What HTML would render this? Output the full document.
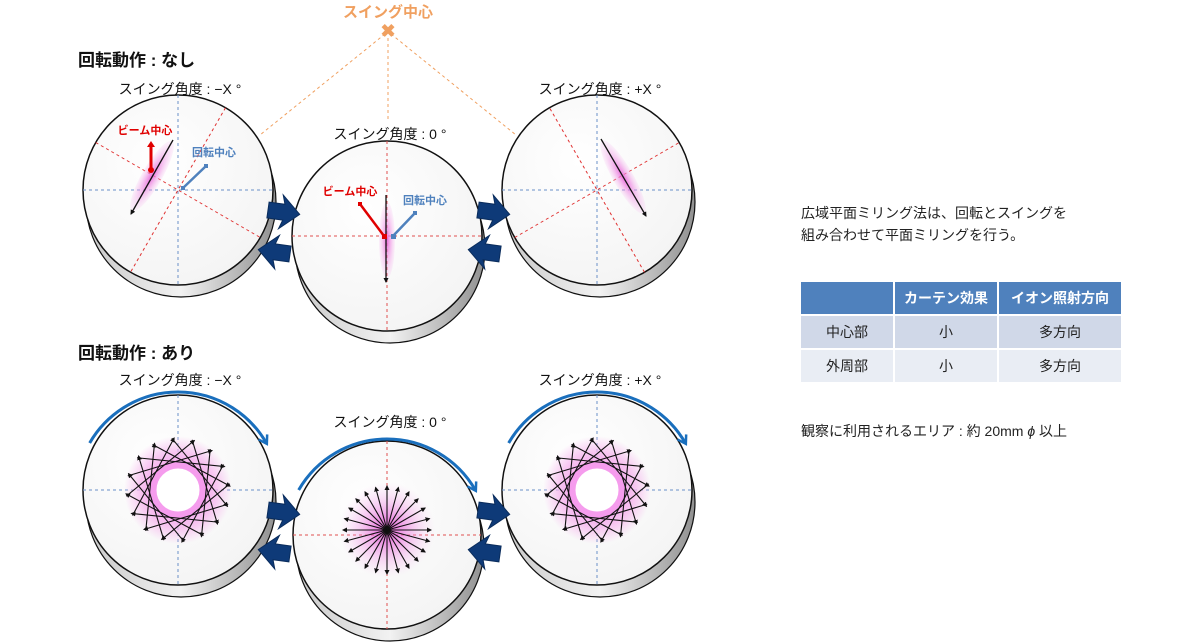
<!DOCTYPE html>
<html><head><meta charset="utf-8"><style>
html,body{margin:0;padding:0;background:#fff;}
svg{display:block;font-family:"Liberation Sans","Noto Sans CJK JP",sans-serif;}
</style></head><body>
<svg id="s" width="1200" height="644" viewBox="0 0 1200 644" xmlns="http://www.w3.org/2000/svg">
<defs>
<linearGradient id="side" x1="0" x2="1"><stop offset="0" stop-color="#c8c8c8"/><stop offset="0.5" stop-color="#f2f2f2"/><stop offset="1" stop-color="#909090"/></linearGradient>
<radialGradient id="face" cx="0.4" cy="0.35" r="0.75"><stop offset="0" stop-color="#ffffff"/><stop offset="1" stop-color="#f3f3f3"/></radialGradient>
<radialGradient id="pinkr"><stop offset="0" stop-color="#e040d0" stop-opacity="0.9"/><stop offset="1" stop-color="#f6b8ee" stop-opacity="0"/></radialGradient>
<radialGradient id="ring" r="0.5"><stop offset="0.4" stop-color="#f3a0ec" stop-opacity="1"/><stop offset="0.7" stop-color="#f6b8ee" stop-opacity="0.8"/><stop offset="1" stop-color="#f6b8ee" stop-opacity="0"/></radialGradient>
<radialGradient id="pinke"><stop offset="0" stop-color="#e860d8" stop-opacity="0.9"/><stop offset="1" stop-color="#f6c0f0" stop-opacity="0.2"/></radialGradient>
<marker id="ah" markerWidth="5" markerHeight="5" refX="4" refY="2.5" orient="auto" markerUnits="userSpaceOnUse"><path d="M0,0 L5,2.5 L0,5 z" fill="#111"/></marker>
<marker id="ab" markerWidth="12" markerHeight="12" refX="8" refY="6" orient="auto" markerUnits="userSpaceOnUse"><path d="M1,1 L9,6 L1,11" fill="none" stroke="#1a6fbd" stroke-width="2.5"/></marker>
<g id="arR"><path d="M0,-8 L16,-8 L13,-17 L32,0 L13,17 L16,8 L0,8 z" fill="#0e3a78" stroke="#0a2c5c"/></g>
</defs>

<text x="388" y="17" text-anchor="middle" font-size="15" font-weight="bold" fill="#f0a060">スイング中心</text>
<text x="388" y="37" text-anchor="middle" font-size="18" font-weight="bold" fill="#f0a060">✖</text>
<g stroke="#f0a060" stroke-dasharray="3,3" stroke-width="1" fill="none">
<line x1="385" y1="34" x2="260" y2="135"/><line x1="391" y1="34" x2="516" y2="135"/><line x1="388" y1="38" x2="388" y2="120"/>
</g>

<text x="78" y="66" font-size="17" font-weight="bold" fill="#111">回転動作 : なし</text>
<text x="78" y="359" font-size="17" font-weight="bold" fill="#111">回転動作 : あり</text>
<g font-size="14" fill="#111" text-anchor="middle">
<text x="180" y="94">スイング角度 : −X °</text>
<text x="390" y="139">スイング角度 : 0 °</text>
<text x="600" y="94">スイング角度 : +X °</text>
<text x="180" y="385">スイング角度 : −X °</text>
<text x="390" y="427">スイング角度 : 0 °</text>
<text x="600" y="385">スイング角度 : +X °</text>
</g>

<g id="disks"></g>

<g font-size="14" fill="#222">
<text x="801" y="218">広域平面ミリング法は、回転とスイングを</text>
<text x="801" y="240">組み合わせて平面ミリングを行う。</text>
<text x="801" y="436">観察に利用されるエリア : 約 20mm <tspan font-style="italic">ϕ</tspan> 以上</text>
</g>
<g>
<rect x="801" y="282" width="92" height="32" fill="#4f81bd"/>
<rect x="895" y="282" width="102" height="32" fill="#4f81bd"/>
<rect x="999" y="282" width="122" height="32" fill="#4f81bd"/>
<rect x="801" y="316" width="92" height="32" fill="#d0d8e8"/>
<rect x="895" y="316" width="102" height="32" fill="#d0d8e8"/>
<rect x="999" y="316" width="122" height="32" fill="#d0d8e8"/>
<rect x="801" y="350" width="92" height="32" fill="#e9edf4"/>
<rect x="895" y="350" width="102" height="32" fill="#e9edf4"/>
<rect x="999" y="350" width="122" height="32" fill="#e9edf4"/>
<g font-size="14" text-anchor="middle">
<text x="946" y="303" fill="#fff" font-weight="bold">カーテン効果</text>
<text x="1060" y="303" fill="#fff" font-weight="bold">イオン照射方向</text>
<text x="847" y="337" fill="#222">中心部</text><text x="946" y="337" fill="#222">小</text><text x="1060" y="337" fill="#222">多方向</text>
<text x="847" y="371" fill="#222">外周部</text><text x="946" y="371" fill="#222">小</text><text x="1060" y="371" fill="#222">多方向</text>
</g></g>
</svg>
<script>
const g=document.getElementById('disks');
let html='';
function disk(cx,cy,r,redCross){
 html+=`<circle cx="${cx+3}" cy="${cy+12}" r="${r}" fill="url(#side)" stroke="#111" stroke-width="1.2"/>`;
 html+=`<circle cx="${cx}" cy="${cy}" r="${r}" fill="url(#face)" stroke="#111" stroke-width="1.5"/>`;
 const c=redCross?'#e05050':'#6a90c8';
 html+=`<line x1="${cx-r}" y1="${cy}" x2="${cx+r}" y2="${cy}" stroke="${c}" stroke-dasharray="3,3"/>`;
 html+=`<line x1="${cx}" y1="${cy-r}" x2="${cx}" y2="${cy+r}" stroke="${c}" stroke-dasharray="3,3"/>`;
}
function arrows(x,y){
 html+=`<use href="#arR" transform="translate(${x},${y}) rotate(8)"/>`;
 html+=`<use href="#arR" transform="translate(${x+22},${y+44}) rotate(188)"/>`;
}
disk(178,190,95,false); disk(387,236,95,true); disk(597,190,95,false);
function rl(cx,cy,r,ang){const a=ang*Math.PI/180,dx=Math.cos(a)*r,dy=Math.sin(a)*r;
 html+=`<line x1="${cx-dx}" y1="${cy-dy}" x2="${cx+dx}" y2="${cy+dy}" stroke="#e03030" stroke-dasharray="3,3"/>`;}
rl(178,190,95,-60+180); rl(178,190,95,30); rl(597,190,95,60+180); rl(597,190,95,-30);
html+=`<ellipse cx="152" cy="176" rx="10" ry="40" transform="rotate(30 152 176)" fill="url(#pinke)"/>`;
html+=`<line x1="173" y1="140" x2="131" y2="214" stroke="#111" stroke-width="1.3" marker-end="url(#ah)"/>`;
html+=`<line x1="151" y1="170" x2="151" y2="146" stroke="#e00000" stroke-width="3"/><circle cx="151" cy="170" r="3" fill="#e00000"/><path d="M147,147 L151,141 L155,147z" fill="#e00000"/>`;
html+=`<text x="145" y="134" font-size="11" font-weight="bold" fill="#e00000" text-anchor="middle">ビーム中心</text>`;
html+=`<line x1="183" y1="188" x2="206" y2="166" stroke="#4f81bd" stroke-width="2.5"/><rect x="181" y="186" width="4" height="4" fill="#4f81bd"/><rect x="204" y="164" width="4" height="4" fill="#4f81bd"/>`;
html+=`<text x="214" y="156" font-size="11" font-weight="bold" fill="#4f81bd" text-anchor="middle">回転中心</text>`;
html+=`<ellipse cx="387" cy="240" rx="8" ry="38" fill="url(#pinke)"/>`;
html+=`<line x1="386" y1="195" x2="386" y2="282" stroke="#111" stroke-width="1.3" marker-end="url(#ah)"/>`;
html+=`<line x1="360" y1="204" x2="384" y2="236" stroke="#e00000" stroke-width="2.5"/><rect x="358" y="202" width="4" height="4" fill="#e00000"/><rect x="382" y="234" width="5" height="5" fill="#e00000"/>`;
html+=`<text x="350" y="195" font-size="11" font-weight="bold" fill="#e00000" text-anchor="middle">ビーム中心</text>`;
html+=`<line x1="393" y1="236" x2="415" y2="213" stroke="#4f81bd" stroke-width="2.5"/><rect x="391" y="234" width="5" height="5" fill="#4f81bd"/><rect x="413" y="211" width="4" height="4" fill="#4f81bd"/>`;
html+=`<text x="425" y="204" font-size="11" font-weight="bold" fill="#4f81bd" text-anchor="middle">回転中心</text>`;
html+=`<ellipse cx="623" cy="177" rx="10" ry="42" transform="rotate(-30 623 177)" fill="url(#pinke)"/>`;
html+=`<line x1="601" y1="139" x2="646" y2="216" stroke="#111" stroke-width="1.3" marker-end="url(#ah)"/>`;
arrows(268,210); arrows(478,210);
disk(178,490,95,false); disk(387,535,94,true); disk(597,490,95,false);
function star(cx,cy){
 html+=`<circle cx="${cx}" cy="${cy}" r="54" fill="url(#ring)"/>`;
 html+=`<circle cx="${cx}" cy="${cy}" r="22" fill="#fff"/>`;
 html+=`<circle cx="${cx}" cy="${cy}" r="25" fill="none" stroke="#f59ced" stroke-width="7"/>`;
 for(let i=0;i<16;i++){const a=i*Math.PI*2/16+0.1; const px=cx+Math.cos(a)*28, py=cy+Math.sin(a)*28;
  const tx=-Math.sin(a), ty=Math.cos(a);
  html+=`<line x1="${px-tx*44}" y1="${py-ty*44}" x2="${px+tx*44}" y2="${py+ty*44}" stroke="#111" stroke-width="1.1" marker-end="url(#ah)"/>`;}
}
star(178,490); star(597,490);
html+=`<circle cx="387" cy="530" r="48" fill="url(#pinkr)"/>`;
for(let i=0;i<24;i++){const a=i*Math.PI*2/24;
 html+=`<line x1="387" y1="530" x2="${387+Math.cos(a)*44}" y2="${530+Math.sin(a)*44}" stroke="#111" stroke-width="1.1" marker-end="url(#ah)"/>`;}
function arc(cx,cy,r){const a1=-150*Math.PI/180,a2=-30*Math.PI/180;
 html+=`<path d="M${cx+Math.cos(a1)*r},${cy+Math.sin(a1)*r} A${r},${r} 0 0 1 ${cx+Math.cos(a2)*r},${cy+Math.sin(a2)*r}" fill="none" stroke="#1a6fbd" stroke-width="3" marker-end="url(#ab)"/>`;}
arc(178,494,102); arc(387,541,102); arc(597,494,102);
arrows(268,510); arrows(478,510);
g.innerHTML=html;
</script>
</body></html>
